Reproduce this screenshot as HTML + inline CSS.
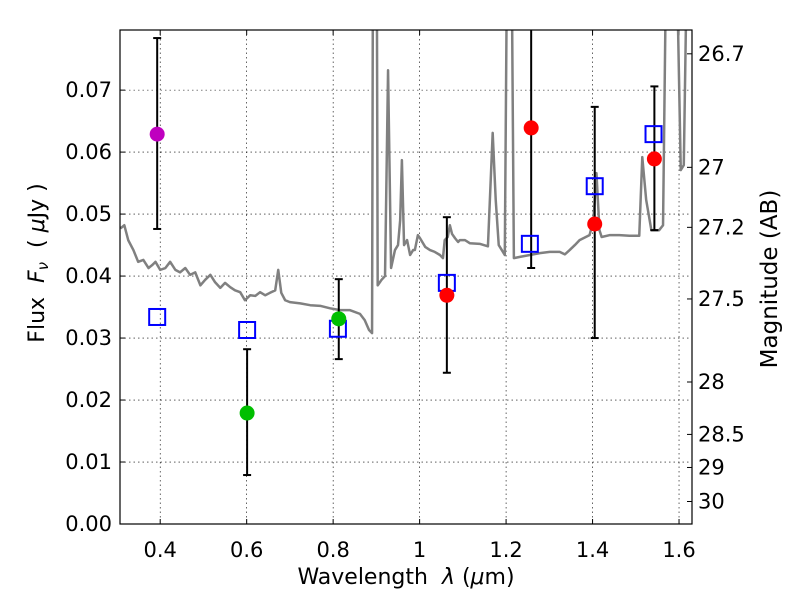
<!DOCTYPE html>
<html><head><meta charset="utf-8"><style>
body{margin:0;background:#fff}
svg text{font-family:"DejaVu Sans","Liberation Sans",sans-serif;fill:#000;white-space:pre}
</style></head><body>
<svg id="c" width="800" height="600" xmlns="http://www.w3.org/2000/svg"></svg>
<script>
const specX=[0.308,0.317,0.326,0.338,0.349,0.361,0.373,0.382,0.389,0.400,0.412,0.423,0.435,0.446,0.458,0.469,0.481,0.493,0.504,0.516,0.527,0.539,0.550,0.562,0.573,0.585,0.596,0.608,0.620,0.631,0.643,0.654,0.666,0.673,0.680,0.689,0.700,0.724,0.747,0.770,0.793,0.816,0.839,0.862,0.873,0.883,0.890,0.892,0.901,0.903,0.912,0.920,0.927,0.934,0.943,0.950,0.955,0.959,0.964,0.971,0.978,0.985,0.989,0.996,1.001,1.013,1.024,1.035,1.047,1.054,1.058,1.065,1.070,1.075,1.082,1.089,1.093,1.105,1.116,1.139,1.158,1.169,1.176,1.183,1.197,1.202,1.213,1.218,1.232,1.255,1.278,1.301,1.324,1.336,1.347,1.359,1.370,1.393,1.402,1.409,1.416,1.421,1.439,1.462,1.485,1.508,1.515,1.524,1.536,1.554,1.563,1.570,1.595,1.604,1.611,1.618,1.627];
const specY=[0.0477,0.0482,0.0458,0.0442,0.0423,0.0426,0.0413,0.0418,0.0423,0.0410,0.0413,0.0423,0.0410,0.0406,0.0413,0.0402,0.0406,0.0385,0.0394,0.0402,0.0390,0.0381,0.0389,0.0382,0.0377,0.0374,0.0361,0.0369,0.0368,0.0374,0.0369,0.0373,0.0377,0.0410,0.0373,0.0361,0.0358,0.0356,0.0353,0.0352,0.0348,0.0345,0.0345,0.0339,0.0329,0.0313,0.0308,0.0900,0.0900,0.0385,0.0394,0.0400,0.0732,0.0413,0.0442,0.0450,0.0490,0.0587,0.0450,0.0458,0.0434,0.0442,0.0442,0.0466,0.0461,0.0447,0.0442,0.0439,0.0434,0.0429,0.0458,0.0463,0.0482,0.0468,0.0461,0.0455,0.0458,0.0458,0.0453,0.0452,0.0448,0.0631,0.0523,0.0450,0.0434,0.0900,0.0900,0.0429,0.0431,0.0434,0.0437,0.0439,0.0439,0.0435,0.0442,0.0450,0.0458,0.0466,0.0490,0.0566,0.0474,0.0463,0.0466,0.0466,0.0465,0.0465,0.0592,0.0523,0.0474,0.0474,0.0482,0.0900,0.0900,0.0571,0.0579,0.0900,0.0900];
const modelX=[0.393,0.601,0.811,1.063,1.255,1.405,1.541];
const modelY=[0.0334,0.0313,0.0315,0.0389,0.0452,0.0545,0.0629];
const obsX=[0.393,0.601,0.813,1.063,1.258,1.405,1.543];
const obsY=[0.0629,0.0179,0.0331,0.0369,0.0639,0.0484,0.0589];
const obsLo=[0.0476,0.0079,0.0266,0.0244,0.0413,0.0300,0.0474];
const obsHi=[0.0784,0.0282,0.0395,0.0495,0.0850,0.0673,0.0706];
const obsColor=['#bf00bf','#00bf00','#00bf00','#ff0000','#ff0000','#ff0000','#ff0000'];
const xTicks=[0.4,0.6,0.8,1.0,1.2,1.4,1.6];
const xTickLabels=['0.4','0.6','0.8','1','1.2','1.4','1.6'];
const yTicks=[0,0.01,0.02,0.03,0.04,0.05,0.06,0.07];
const yTickLabels=['0.00','0.01','0.02','0.03','0.04','0.05','0.06','0.07'];
const magTicks=[26.7,27,27.2,27.5,28,28.5,29,30];
const magLabels=['26.7','27','27.2','27.5','28','28.5','29','30'];

const L=120,R=692,T=30,B=524,x0=0.307,x1=1.630,y0=0,y1=0.0797;
const sx=v=>L+(v-x0)/(x1-x0)*(R-L);
const sy=v=>B-(v-y0)/(y1-y0)*(B-T);
const NS='http://www.w3.org/2000/svg';
const svg=document.getElementById('c');
function mk(tag,a,parent){const e=document.createElementNS(NS,tag);for(const k in a)e.setAttribute(k,a[k]);(parent||svg).appendChild(e);return e;}
const defs=mk('defs',{});const cp=mk('clipPath',{id:'clip'},defs);mk('rect',{x:L,y:T,width:R-L,height:B-T},cp);
const grid=mk('g',{});


xTicks.forEach((v,i)=>{const x=sx(v);
 mk('line',{x1:x,x2:x,y1:T,y2:B,stroke:'#000','stroke-width':0.6,'stroke-dasharray':'1.5,3'},grid);
 mk('line',{x1:x,x2:x,y1:B,y2:B-5,stroke:'#000'});mk('line',{x1:x,x2:x,y1:T,y2:T+5,stroke:'#000'});
 const t=mk('text',{x:x,y:557,'text-anchor':'middle','font-size':21});t.textContent=xTickLabels[i];
 
 });
yTicks.forEach((v,i)=>{const y=sy(v);
 if(i>0)mk('line',{x1:L,x2:R,y1:y,y2:y,stroke:'#000','stroke-width':0.6,'stroke-dasharray':'1.5,3'},grid);
 mk('line',{x1:L,x2:L+5,y1:y,y2:y,stroke:'#000'});
 const t=mk('text',{x:112,y:y+7,'text-anchor':'end','font-size':21});t.textContent=yTickLabels[i];
 
 });
magTicks.forEach((m,i)=>{const y=sy(Math.pow(10,(23.9-m)/2.5));
 mk('line',{x1:R,x2:R-5,y1:y,y2:y,stroke:'#000'});
 const t=mk('text',{x:698,y:y+7,'font-size':21});t.textContent=magLabels[i];
 
 });
const g=mk('g',{'clip-path':'url(#clip)'});
const sp=mk('polyline',{points:specX.map((v,i)=>sx(v)+','+sy(specY[i])).join(' '),fill:'none',stroke:'#808080','stroke-width':2.5,'stroke-linejoin':'round'},g);


obsX.forEach((v,i)=>{const x=sx(v);const top=Math.max(sy(obsHi[i]),T);
 const e=mk('g',{stroke:'#000','stroke-width':2},g);
 
 
 mk('line',{x1:x,x2:x,y1:top,y2:sy(obsLo[i])},e);
 mk('line',{x1:x-4,x2:x+4,y1:sy(obsLo[i]),y2:sy(obsLo[i])},e);
 if(sy(obsHi[i])>T)mk('line',{x1:x-4,x2:x+4,y1:sy(obsHi[i]),y2:sy(obsHi[i])},e);});
modelX.forEach((v,i)=>{const r=mk('rect',{x:sx(v)-8,y:sy(modelY[i])-8,width:16,height:16,fill:'none',stroke:'#0000ff','stroke-width':2},g);
 
 });
obsX.forEach((v,i)=>{const c=mk('circle',{cx:sx(v),cy:sy(obsY[i]),r:7.5,fill:obsColor[i]},g);
 
 });
const fr=mk('rect',{x:L,y:T,width:R-L,height:B-T,fill:'none',stroke:'#000','stroke-width':1.2});


</script>
<svg width="800" height="600" style="position:absolute;left:0;top:0">
<text x="406" y="584" text-anchor="middle" font-size="22">Wavelength  <tspan font-style="italic">λ</tspan> (<tspan font-style="italic">μ</tspan>m)</text>
<text transform="translate(44,263) rotate(-90)" text-anchor="middle" font-size="22">Flux  <tspan font-style="italic">F</tspan><tspan font-style="italic" font-size="15" dy="4">ν</tspan><tspan dy="-4">  ( </tspan><tspan font-style="italic">μ</tspan>Jy )</text>
<text transform="translate(777,279) rotate(-90)" text-anchor="middle" font-size="23">Magnitude (AB)</text>
</svg>
</body></html>
